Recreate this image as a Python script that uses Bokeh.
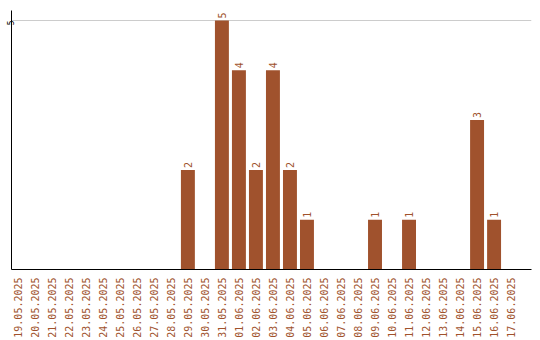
import math
from bokeh.plotting import figure
from bokeh.models import ColumnDataSource, Range1d, FixedTicker
from bokeh.core.properties import value
from bokeh.embed import file_html
from bokeh.resources import INLINE

dates = ["19.05.2025", "20.05.2025", "21.05.2025", "22.05.2025", "23.05.2025",
         "24.05.2025", "25.05.2025", "26.05.2025", "27.05.2025", "28.05.2025",
         "29.05.2025", "30.05.2025", "31.05.2025", "01.06.2025", "02.06.2025",
         "03.06.2025", "04.06.2025", "05.06.2025", "06.06.2025", "07.06.2025",
         "08.06.2025", "09.06.2025", "10.06.2025", "11.06.2025", "12.06.2025",
         "13.06.2025", "14.06.2025", "15.06.2025", "16.06.2025", "17.06.2025"]
counts = [0, 0, 0, 0, 0, 0, 0, 0, 0, 0,
          2, 0, 5, 4, 2, 4, 2, 1, 0, 0,
          0, 1, 0, 1, 0, 0, 0, 3, 1, 0]
y_ticks = [5]

BROWN = "#A0522D"
FONT = "DejaVu Sans Mono"

idx = list(range(len(dates)))
src = ColumnDataSource(dict(x=idx, y=counts))
lab_x = [i for i, c in zip(idx, counts) if c > 0]
lab_y = [c for c in counts if c > 0]
lab_src = ColumnDataSource(dict(x=lab_x, y=lab_y, t=[str(c) for c in lab_y]))

p = figure(width=540, height=340, output_backend="svg", toolbar_location=None,
           x_range=Range1d(-0.37, 30.2), y_range=Range1d(0, 5.2),
           min_border_left=0, min_border_right=9, min_border_top=10,
           min_border_bottom=70)
p.outline_line_color = None
p.background_fill_color = "white"
p.border_fill_color = "white"

p.vbar(x="x", top="y", width=0.82, bottom=0, source=src,
       fill_color=BROWN, line_color=None)

p.text(x="x", y="y", text="t", source=lab_src, angle=math.pi / 2,
       text_align="left", text_baseline="middle", y_offset=-2,
       text_font=value(FONT), text_font_size="10px", text_color=BROWN)

p.xgrid.grid_line_color = None
p.ygrid.grid_line_color = "#cccccc"
p.ygrid.ticker = FixedTicker(ticks=y_ticks)

xa = p.xaxis[0]
xa.ticker = FixedTicker(ticks=idx)
xa.major_label_overrides = {i: d for i, d in zip(idx, dates)}
xa.major_label_orientation = math.pi / 2
xa.major_label_text_font = FONT
xa.major_label_text_font_size = "10px"
xa.major_label_text_color = BROWN
xa.major_tick_line_color = None
xa.minor_tick_line_color = None
xa.major_tick_out = 0
xa.major_label_standoff = 8
xa.axis_line_color = "black"

ya = p.yaxis[0]
ya.ticker = FixedTicker(ticks=y_ticks)
ya.major_label_orientation = math.pi / 2
ya.major_label_text_font = FONT
ya.major_label_text_font_size = "8px"
ya.major_label_text_color = "black"
ya.major_tick_line_color = None
ya.minor_tick_line_color = None
ya.major_tick_out = 0
ya.major_tick_in = 0
ya.major_label_standoff = 1
ya.axis_line_color = "black"

open("out.html", "w").write(file_html(p, INLINE))
